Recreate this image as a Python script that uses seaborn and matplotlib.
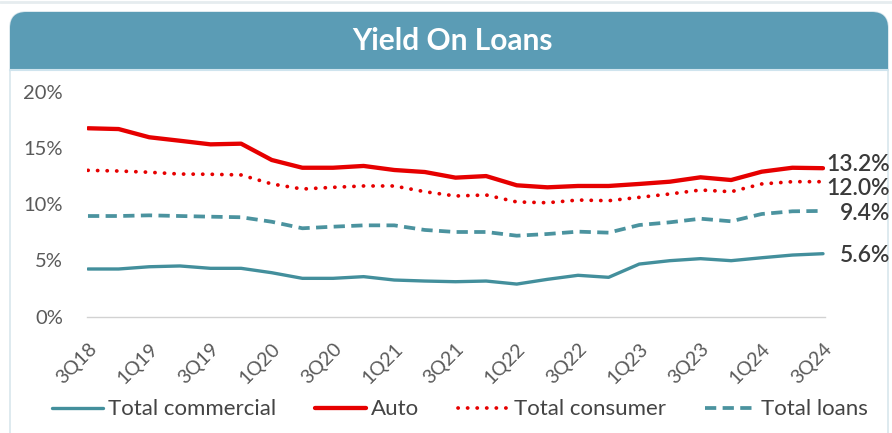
import matplotlib
matplotlib.use("Agg")
import matplotlib.pyplot as plt
from matplotlib.patches import FancyBboxPatch, Rectangle
from matplotlib import font_manager
import numpy as np
import pandas as pd
import seaborn as sns

# Quarterly yield data (%)
quarters = ["3Q18", "4Q18", "1Q19", "2Q19", "3Q19", "4Q19", "1Q20", "2Q20",
            "3Q20", "4Q20", "1Q21", "2Q21", "3Q21", "4Q21", "1Q22", "2Q22",
            "3Q22", "4Q22", "1Q23", "2Q23", "3Q23", "4Q23", "1Q24", "2Q24",
            "3Q24"]
total_commercial = [4.24, 4.24, 4.44, 4.51, 4.30, 4.30, 3.91, 3.41, 3.41, 3.56,
                    3.26, 3.17, 3.11, 3.17, 2.90, 3.32, 3.68, 3.50, 4.68, 4.98,
                    5.16, 4.98, 5.24, 5.48, 5.6]
auto = [16.75, 16.68, 15.95, 15.64, 15.32, 15.38, 13.93, 13.24, 13.24, 13.40,
        13.04, 12.86, 12.36, 12.50, 11.68, 11.50, 11.62, 11.62, 11.80, 12.00,
        12.39, 12.15, 12.89, 13.24, 13.2]
total_consumer = [13.01, 12.95, 12.84, 12.68, 12.66, 12.60, 11.80, 11.35, 11.50,
                  11.62, 11.62, 11.11, 10.73, 10.82, 10.20, 10.13, 10.37, 10.31,
                  10.61, 10.91, 11.26, 11.11, 11.80, 12.00, 12.0]
total_loans = [8.95, 8.95, 9.01, 8.95, 8.89, 8.84, 8.44, 7.86, 8.00, 8.12, 8.12,
               7.71, 7.53, 7.53, 7.20, 7.35, 7.56, 7.47, 8.15, 8.39, 8.71, 8.48,
               9.13, 9.37, 9.4]
y_ticks = [0, 5, 10, 15, 20]

sns.set_style("white")
available = {f.name for f in font_manager.fontManager.ttflist}
base_font = next((f for f in ["Lato", "Open Sans", "Noto Sans"] if f in available),
                 "DejaVu Sans")
plt.rcParams["font.family"] = [base_font, "DejaVu Sans"]

W, H = 892, 433
fig = plt.figure(figsize=(W / 100, H / 100), dpi=100)
fig.patch.set_facecolor("white")

# Pixel-space background layer: card outline and title banner
bg = fig.add_axes([0, 0, 1, 1], zorder=0)
bg.set_xlim(0, W)
bg.set_ylim(H, 0)
bg.axis("off")
banner_color = "#5b9cb5"
bg.plot([0, W], [2, 2], color="#e6ecef", lw=2)
bg.add_patch(FancyBboxPatch((10, 12), 878, 440, boxstyle="round,pad=0,rounding_size=16",
                            facecolor="white", edgecolor="#d8e6ec", lw=1.2))
bg.add_patch(FancyBboxPatch((10, 12), 878, 57, boxstyle="round,pad=0,rounding_size=16",
                            facecolor=banner_color, edgecolor="none"))
bg.add_patch(Rectangle((10, 40), 878, 29, facecolor=banner_color, edgecolor="none"))
bg.plot([10, 888], [69.5, 69.5], color="#cfe4ee", lw=1.5)
bg.text(452, 41, "Yield On Loans", color="white", fontsize=21.5, fontweight="bold",
        ha="center", va="center")

# Main chart axes
ax = fig.add_axes([86.7 / W, 1 - 316.7 / H, (825 - 86.7) / W, (316.7 - 91.7) / H],
                  zorder=1)
ax.set_facecolor("none")

x = np.arange(len(quarters))
df = pd.DataFrame({"q": x, "commercial": total_commercial, "auto": auto,
                   "consumer": total_consumer, "loans": total_loans})

teal = "#438f9c"
teal_dash = "#4b939f"
red = "#e60000"

sns.lineplot(data=df, x="q", y="commercial", ax=ax, color=teal, lw=2.4,
             label="Total commercial")
sns.lineplot(data=df, x="q", y="auto", ax=ax, color=red, lw=3.1, label="Auto")
sns.lineplot(data=df, x="q", y="consumer", ax=ax, color=red, lw=2.7,
             linestyle=(0, (0.05, 2.5)), dash_capstyle="round", label="Total consumer")
sns.lineplot(data=df, x="q", y="loans", ax=ax, color=teal_dash, lw=2.7,
             linestyle=(0, (3.0, 1.7)), label="Total loans")

ax.set_xlim(-0.042, 24.065)
ax.set_ylim(0, 20)
ax.set_yticks(y_ticks)
ax.set_yticklabels([f"{v}%" for v in y_ticks])
ax.set_xticks(x[::2])
ax.set_xticklabels(quarters[::2], rotation=45, ha="right", rotation_mode="anchor")
ax.set_xlabel("")
ax.set_ylabel("")
for s in ["top", "right", "left"]:
    ax.spines[s].set_visible(False)
ax.spines["bottom"].set_color("#d2d2d2")
ax.spines["bottom"].set_linewidth(1.0)
ax.tick_params(axis="y", length=0, pad=17, labelsize=14.5, labelcolor="#5a5a5a")
ax.tick_params(axis="x", length=0, pad=17, labelsize=14, labelcolor="#5a5a5a")

# End-of-series value labels
ends = [(auto[-1], 4), (total_consumer[-1], -7), (total_loans[-1], -3),
        (total_commercial[-1], -2)]
for val, dy in ends:
    ax.annotate(f"{val:.1f}%", xy=(1, val), xycoords=("axes fraction", "data"),
                xytext=(65, dy), textcoords="offset pixels", ha="right", va="center",
                fontsize=16.5, fontweight="semibold", color="#3a3a3a",
                annotation_clip=False)

leg = ax.legend(loc="center", bbox_to_anchor=(0.505, -0.412), ncol=4,
                frameon=False, fontsize=16, handlelength=2.3, handletextpad=0.22,
                columnspacing=1.75, labelcolor="#444444")

fig.savefig("out.png", dpi=100, facecolor="white")
